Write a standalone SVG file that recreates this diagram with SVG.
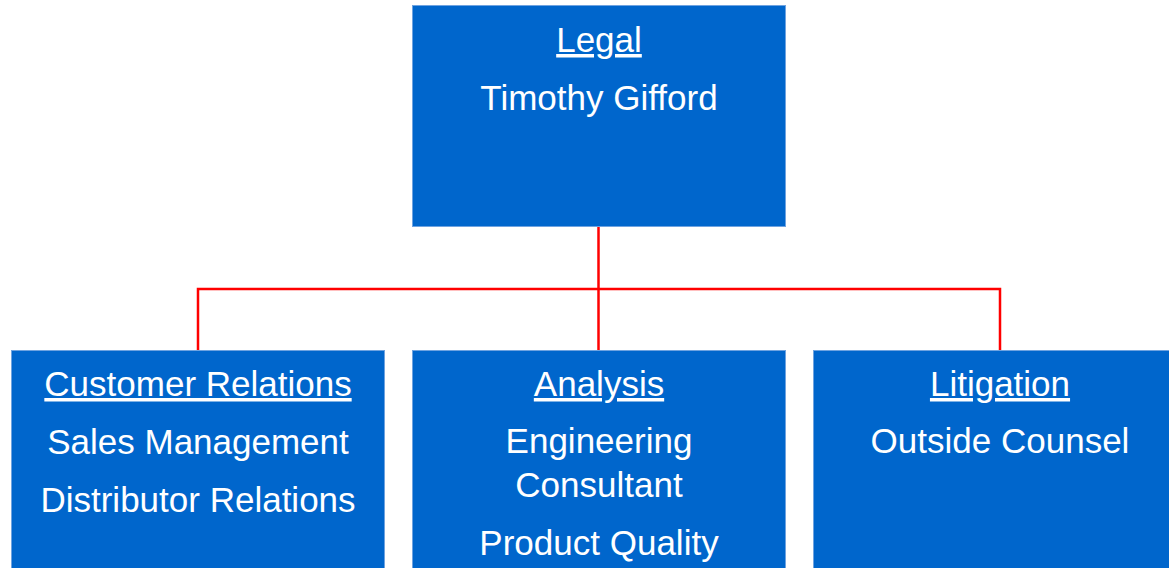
<svg xmlns="http://www.w3.org/2000/svg" width="1169" height="568" viewBox="0 0 1169 568">
<style>
.box{fill:#0066CC;stroke:#6FA3E0;stroke-width:1}
.t{font-family:"Liberation Sans",Arial,sans-serif;font-size:35px;fill:#FFFFFF;text-anchor:middle}
.h{text-decoration:underline}
.c{fill:none;stroke:#FF0000;stroke-width:2.5}
</style>
<rect width="1169" height="568" fill="#FFFFFF"/>
<g id="connectors">
<path class="c" d="M598.5,227 V289"/>
<path class="c" d="M198,350 V289 H1000 V350"/>
<path class="c" d="M598.5,289 V350"/>
</g>
<g id="legal">
<rect class="box" x="412.5" y="5.5" width="373" height="221"/>
<text class="t h" x="599" y="52">Legal</text>
<text class="t" x="599" y="110">Timothy Gifford</text>
</g>
<g id="customer-relations">
<rect class="box" x="11.5" y="350.5" width="373" height="230"/>
<text class="t h" x="198" y="396">Customer Relations</text>
<text class="t" x="198" y="454">Sales Management</text>
<text class="t" x="198" y="512">Distributor Relations</text>
</g>
<g id="analysis">
<rect class="box" x="412.5" y="350.5" width="373" height="230"/>
<text class="t h" x="599" y="396">Analysis</text>
<text class="t" x="599" y="453">Engineering</text>
<text class="t" x="599" y="497">Consultant</text>
<text class="t" x="599" y="555">Product Quality</text>
</g>
<g id="litigation">
<rect class="box" x="813.5" y="350.5" width="373" height="230"/>
<text class="t h" x="1000" y="396">Litigation</text>
<text class="t" x="1000" y="453">Outside Counsel</text>
</g>
</svg>
